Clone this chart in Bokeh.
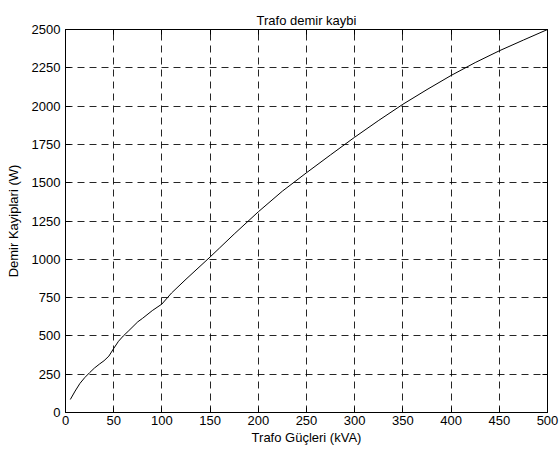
from bokeh.plotting import figure
from bokeh.models import LinearAxis, Range1d, FixedTicker
from bokeh.embed import file_html
from bokeh.resources import INLINE

# Data
guc_kva = [5, 10, 15, 20, 25, 30, 35, 40, 45, 50, 55, 60, 65, 75, 80, 90, 100,
           110, 125, 150, 160, 175, 200, 225, 250, 275, 300, 325, 350, 375,
           400, 425, 450, 475, 500]
demir_kayip = [85, 140, 190, 228, 260, 290, 315, 338, 368, 418, 465, 500, 530,
               592, 615, 665, 708, 780, 870, 1015, 1075, 1165, 1310, 1445,
               1565, 1682, 1797, 1907, 2012, 2108, 2200, 2284, 2361, 2431, 2500]
x_ticks = [0, 50, 100, 150, 200, 250, 300, 350, 400, 450, 500]
y_ticks = [0, 250, 500, 750, 1000, 1250, 1500, 1750, 2000, 2250, 2500]

FONT = "Liberation Sans"
FS = "13px"

p = figure(width=560, height=456, output_backend="svg", toolbar_location=None,
           x_range=Range1d(0, 500), y_range=Range1d(0, 2500),
           title="Trafo demir kaybi",
           min_border_left=65, min_border_right=13, min_border_top=29,
           min_border_bottom=44)
p.frame_width = 482
p.frame_height = 383

p.title.text_font = FONT
p.title.text_font_size = FS
p.title.text_font_style = "normal"
p.title.align = "center"
p.title.text_color = "black"
p.title.standoff = 4

p.background_fill_color = "white"
p.border_fill_color = "white"
p.outline_line_color = "black"
p.outline_line_width = 1

for ax in (p.xaxis[0], p.yaxis[0]):
    ax.major_label_text_font = FONT
    ax.major_label_text_font_size = FS
    ax.major_label_text_color = "black"
    ax.axis_label_text_font = FONT
    ax.axis_label_text_font_size = FS
    ax.axis_label_text_font_style = "normal"
    ax.axis_label_text_color = "black"
    ax.major_tick_in = 5
    ax.major_tick_out = 0
    ax.minor_tick_in = 0
    ax.minor_tick_out = 0
    ax.axis_line_color = "black"
    ax.major_tick_line_color = "black"

p.xaxis[0].ticker = FixedTicker(ticks=x_ticks)
p.yaxis[0].ticker = FixedTicker(ticks=y_ticks)
p.xaxis[0].axis_label = "Trafo Güçleri (kVA)"
p.yaxis[0].axis_label = "Demir Kayiplari (W)"
p.xaxis[0].major_label_standoff = 3
p.xaxis[0].axis_label_standoff = 2
p.yaxis[0].major_label_standoff = 5
p.yaxis[0].axis_label_standoff = 8

# Mirror axes (right/top) with inward ticks and no labels
right_ax = LinearAxis(ticker=FixedTicker(ticks=y_ticks),
                      major_label_overrides={t: "" for t in y_ticks},
                      major_tick_in=5, major_tick_out=0, minor_tick_in=0, minor_tick_out=0,
                      major_label_standoff=0, axis_line_color="black",
                      major_tick_line_color="black")
top_ax = LinearAxis(ticker=FixedTicker(ticks=x_ticks),
                    major_label_overrides={t: "" for t in x_ticks},
                    major_tick_in=5, major_tick_out=0, minor_tick_in=0, minor_tick_out=0,
                    major_label_standoff=0, axis_line_color="black",
                    major_tick_line_color="black")
p.add_layout(right_ax, "right")
p.add_layout(top_ax, "above")

p.xgrid.ticker = FixedTicker(ticks=x_ticks)
p.ygrid.ticker = FixedTicker(ticks=y_ticks)
for g in (p.xgrid[0], p.ygrid[0]):
    g.grid_line_color = "black"
    g.grid_line_dash = "7 5"
    g.grid_line_width = 1
    g.grid_line_alpha = 0.85

p.line(guc_kva, demir_kayip, line_color="black", line_width=1)

open("out.html", "w").write(file_html(p, INLINE))
